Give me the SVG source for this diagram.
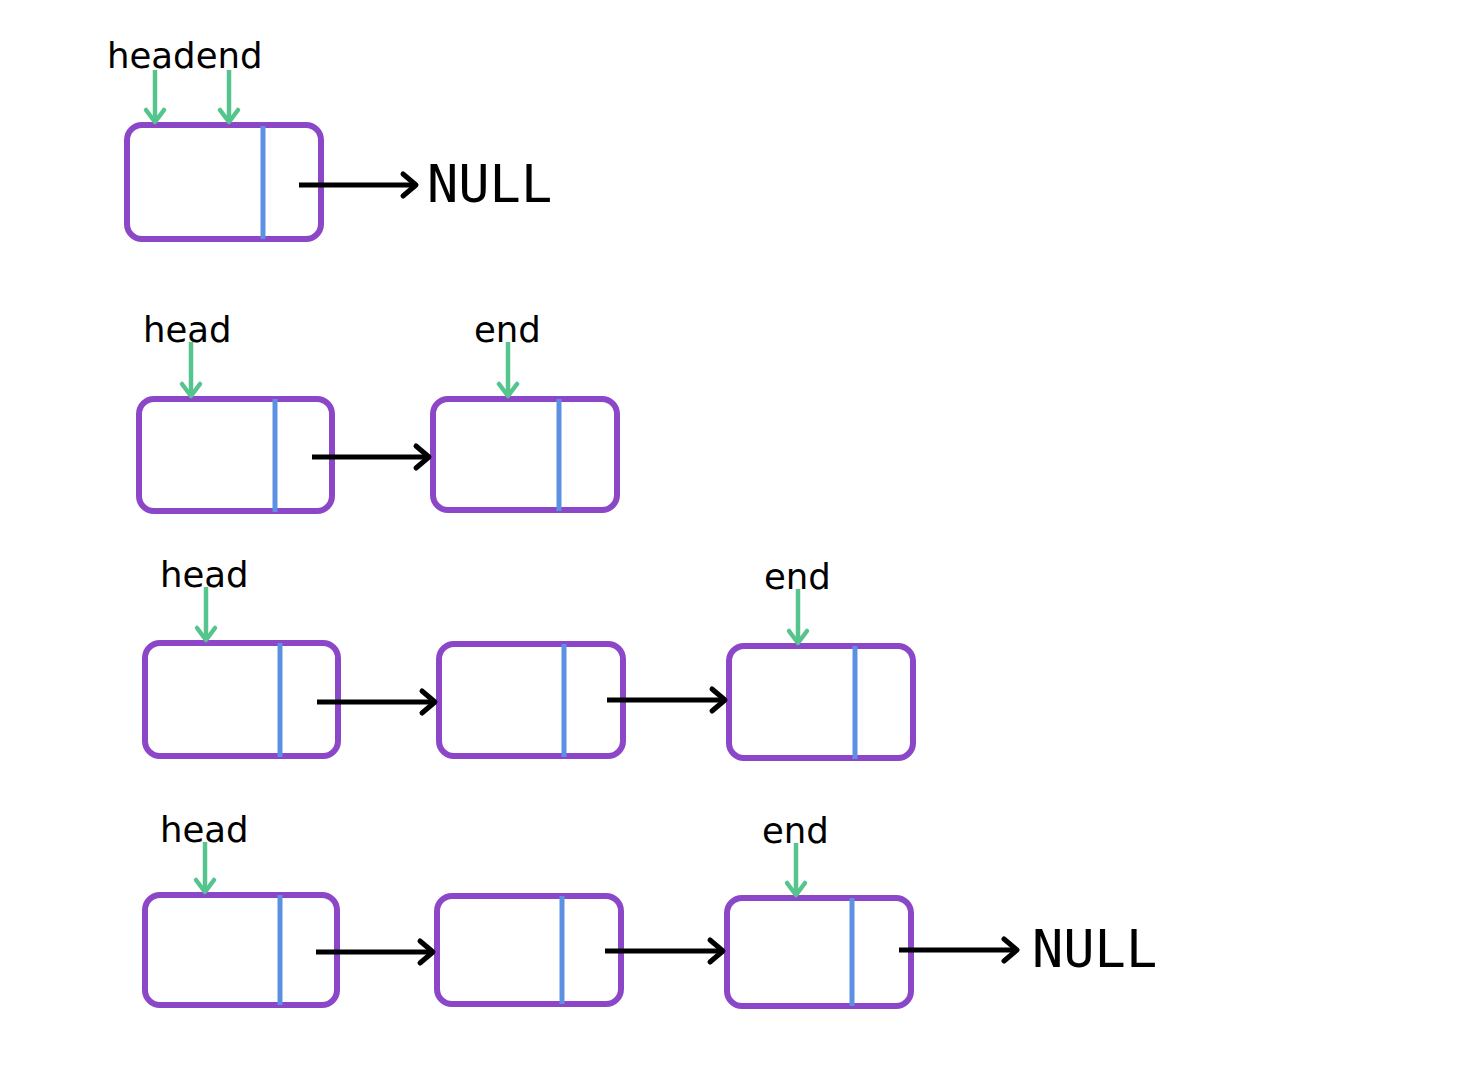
<svg xmlns="http://www.w3.org/2000/svg" width="1458" height="1092" viewBox="0 0 1458 1092">
<style>
.box{fill:#fff;stroke:#8c47c9;stroke-width:6}
.div{stroke:#5b90e2;stroke-width:5}
.ptr{stroke:#56c48d;stroke-width:4.5;fill:none}
.lnk{stroke:#000;stroke-width:5;fill:none}
.lbl{font-family:"DejaVu Sans",sans-serif;font-size:35.5px;fill:#000}
.null{font-family:"DejaVu Sans Mono",monospace;font-size:52px;fill:#000}
</style>
<defs>
<marker id="ah" markerUnits="userSpaceOnUse" markerWidth="30" markerHeight="30" refX="0" refY="0" viewBox="-15 -15 30 30" orient="auto" overflow="visible">
<path d="M-13,-11 L0,0 L-13,11" fill="none" stroke="#000" stroke-width="5" stroke-linecap="round" stroke-linejoin="round"/>
</marker>
<marker id="gh" markerUnits="userSpaceOnUse" markerWidth="30" markerHeight="30" refX="0" refY="0" viewBox="-15 -15 30 30" orient="auto" overflow="visible">
<path d="M-12,-9 L0,0 L-12,9" fill="none" stroke="#56c48d" stroke-width="4.5" stroke-linecap="round" stroke-linejoin="round"/>
</marker>
</defs>
<rect width="1458" height="1092" fill="#fff"/>

<!-- Row 1 -->
<g id="r1n1"><rect class="box" x="127" y="125" width="194" height="114" rx="15"/><line class="div" x1="263" y1="126" x2="263" y2="239"/></g>
<g id="r1labels">
<text class="lbl" x="107" y="68">headend</text>
<text class="null" x="427" y="202">NULL</text>
</g>

<!-- Row 2 -->
<g id="r2n1"><rect class="box" x="139" y="399" width="193" height="112" rx="15"/><line class="div" x1="275" y1="399" x2="275" y2="512"/></g>
<g id="r2n2"><rect class="box" x="433" y="399" width="184" height="111" rx="15"/><line class="div" x1="559" y1="399" x2="559" y2="511"/></g>
<g id="r2labels">
<text class="lbl" x="143" y="342">head</text>
<text class="lbl" x="474" y="342">end</text>
</g>

<!-- Row 3 -->
<g id="r3n1"><rect class="box" x="145" y="643" width="193" height="113" rx="15"/><line class="div" x1="280" y1="643" x2="280" y2="757"/></g>
<g id="r3n2"><rect class="box" x="439" y="644" width="184" height="112" rx="15"/><line class="div" x1="564" y1="644" x2="564" y2="757"/></g>
<g id="r3n3"><rect class="box" x="729" y="646" width="184" height="112" rx="15"/><line class="div" x1="855" y1="646" x2="855" y2="759"/></g>
<g id="r3labels">
<text class="lbl" x="160" y="587">head</text>
<text class="lbl" x="764" y="589">end</text>
</g>

<!-- Row 4 -->
<g id="r4n1"><rect class="box" x="145" y="895" width="192" height="110" rx="15"/><line class="div" x1="280" y1="895" x2="280" y2="1005"/></g>
<g id="r4n2"><rect class="box" x="437" y="896" width="184" height="108" rx="15"/><line class="div" x1="562" y1="896" x2="562" y2="1004"/></g>
<g id="r4n3"><rect class="box" x="727" y="898" width="184" height="108" rx="15"/><line class="div" x1="852" y1="898" x2="852" y2="1006"/></g>
<g id="r4labels">
<text class="lbl" x="160" y="842">head</text>
<text class="lbl" x="762" y="843">end</text>
<text class="null" x="1032" y="967">NULL</text>
</g>

<g id="connectors">
<!-- pointers -->
<line class="ptr" x1="155" y1="70" x2="155" y2="122" marker-end="url(#gh)"/>
<line class="ptr" x1="229" y1="70" x2="229" y2="122" marker-end="url(#gh)"/>
<line class="ptr" x1="191" y1="342" x2="191" y2="396" marker-end="url(#gh)"/>
<line class="ptr" x1="508" y1="342" x2="508" y2="396" marker-end="url(#gh)"/>
<line class="ptr" x1="206" y1="587" x2="206" y2="640" marker-end="url(#gh)"/>
<line class="ptr" x1="798" y1="589" x2="798" y2="643" marker-end="url(#gh)"/>
<line class="ptr" x1="205" y1="842" x2="205" y2="892" marker-end="url(#gh)"/>
<line class="ptr" x1="796" y1="843" x2="796" y2="895" marker-end="url(#gh)"/>
<!-- links -->
<line class="lnk" x1="299" y1="185" x2="416" y2="185" marker-end="url(#ah)"/>
<line class="lnk" x1="312" y1="457" x2="429" y2="457" marker-end="url(#ah)"/>
<line class="lnk" x1="317" y1="702" x2="435" y2="702" marker-end="url(#ah)"/>
<line class="lnk" x1="607" y1="700" x2="725" y2="700" marker-end="url(#ah)"/>
<line class="lnk" x1="316" y1="952" x2="433" y2="952" marker-end="url(#ah)"/>
<line class="lnk" x1="605" y1="951" x2="723" y2="951" marker-end="url(#ah)"/>
<line class="lnk" x1="899" y1="950" x2="1017" y2="950" marker-end="url(#ah)"/>
</g>
</svg>
